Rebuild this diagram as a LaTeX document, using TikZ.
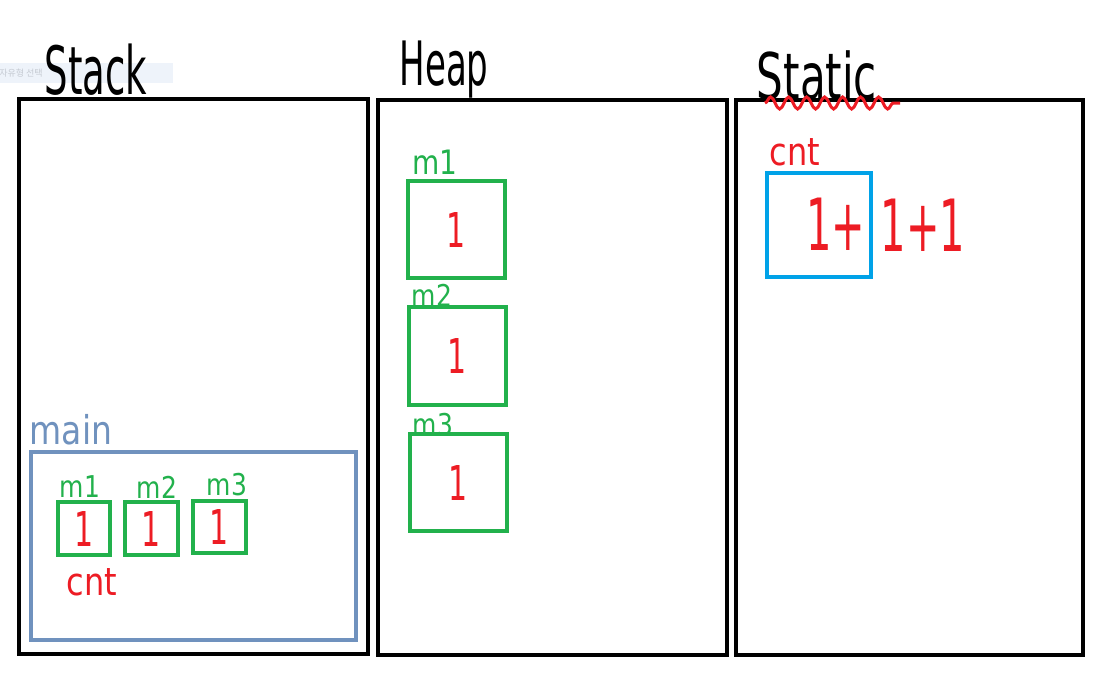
\documentclass[tikz,border=0pt]{standalone}
\usepackage{fontspec}
\setmainfont{DejaVu Sans}
\newfontfamily\krfont{Noto Sans CJK KR}
\usetikzlibrary{decorations.pathmorphing}
\definecolor{pgreen}{HTML}{22B14C}
\definecolor{pred}{HTML}{ED1C24}
\definecolor{pblue}{HTML}{7092BE}
\definecolor{pcyan}{HTML}{00A2E8}
\definecolor{tipbg}{HTML}{EEF3FA}
\definecolor{tiptx}{HTML}{C5CAD2}
\tikzset{
  region/.style={draw=black, line width=4pt, inner sep=0pt, outer sep=0pt},
  framebox/.style={draw=pblue, line width=4pt, inner sep=0pt, outer sep=0pt},
  varbox/.style={draw=pgreen, line width=4pt, inner sep=0pt, outer sep=0pt},
  cntbox/.style={draw=pcyan, line width=4pt, inner sep=0pt, outer sep=0pt},
  title/.style={inner sep=0pt, text=black, yscale=1.8, transform shape},
  glabel/.style={inner sep=0pt, text=pgreen, font=\fontsize{25}{27}\selectfont, yscale=1.2, transform shape},
  rlabel/.style={inner sep=0pt, text=pred, font=\fontsize{32}{34}\selectfont, yscale=1.2, transform shape},
  one/.style={inner sep=0pt, text=pred, font=\fontsize{30}{32}\selectfont, yscale=1.6, transform shape},
  bigone/.style={inner sep=0pt, text=pred, font=\fontsize{40}{42}\selectfont, yscale=1.8, transform shape},
}
\begin{document}
\begin{tikzpicture}[x=1pt,y=-1pt]
\useasboundingbox (0,0) rectangle (1106,683);
\fill[white] (0,0) rectangle (1106,683);
% faint tooltip
\fill[tipbg] (0,63) rectangle (173,83);
\node[inner sep=0pt, text=tiptx, font=\krfont\fontsize{9}{10}\selectfont] (tip) at (21,73) {자유형 선택};
% regions
\node[region, minimum width=349pt, minimum height=555pt] (stack) at (193.5,376.5) {};
\node[region, minimum width=349pt, minimum height=555pt] (heap) at (552.5,377.5) {};
\node[region, minimum width=347pt, minimum height=555pt] (static) at (909.5,377.5) {};
% titles
\node[title, font=\fontsize{37}{40}\selectfont] (tstack) at (96,70) {Stack};
\node[title, font=\fontsize{34}{36}\selectfont] (theap) at (444,70) {Heap};
\node[title, font=\fontsize{42}{44}\selectfont, yscale=0.85] (tstatic) at (817,76) {Static};
\coordinate (wavyA) at (765,103);
\coordinate (wavyB) at (900,103);
\draw[pred, line width=3pt, decorate, decoration={snake, amplitude=6pt, segment length=18pt}] (wavyA) -- (wavyB);
% main frame
\node[framebox, minimum width=325pt, minimum height=188pt] (main) at (193.5,546) {};
\node[inner sep=0pt, text=pblue, font=\fontsize{33}{35}\selectfont, yscale=1.2, transform shape] (lmain) at (71,430) {main};
% stack variables
\node[varbox, minimum width=52pt, minimum height=53pt] (sm1) at (84,528.5) {};
\node[varbox, minimum width=53pt, minimum height=53pt] (sm2) at (151.5,528.5) {};
\node[varbox, minimum width=53pt, minimum height=52pt] (sm3) at (219.5,527) {};
\node[glabel] (lsm1) at (80,487) {m1};
\node[glabel] (lsm2) at (157,487) {m2};
\node[glabel] (lsm3) at (227,485) {m3};
\node[one] (vsm1) at (sm1) {1};
\node[one] (vsm2) at (sm2) {1};
\node[one] (vsm3) at (sm3) {1};
\node[rlabel] (lcnt1) at (92,582) {cnt};
% heap objects
\node[varbox, minimum width=97pt, minimum height=97pt] (hm1) at (456.5,229.5) {};
\node[varbox, minimum width=97pt, minimum height=98pt] (hm2) at (457.5,356) {};
\node[varbox, minimum width=97pt, minimum height=97pt] (hm3) at (458.5,482.5) {};
\node[glabel, font=\fontsize{28}{30}\selectfont] (lhm1) at (435,162) {m1};
\node[glabel] (lhm2) at (432,295) {m2};
\node[glabel] (lhm3) at (433,425) {m3};
\node[one] (vhm1) at (hm1) {1};
\node[one] (vhm2) at (hm2) {1};
\node[one] (vhm3) at (hm3) {1};
% static
\node[cntbox, minimum width=104pt, minimum height=104pt] (scnt) at (819,225) {};
\node[rlabel] (lcnt2) at (795,152) {cnt};
\node[bigone] (vin) at (836,224) {1+};
\node[bigone] (vout) at (923,225) {1+1};
\end{tikzpicture}
\end{document}
